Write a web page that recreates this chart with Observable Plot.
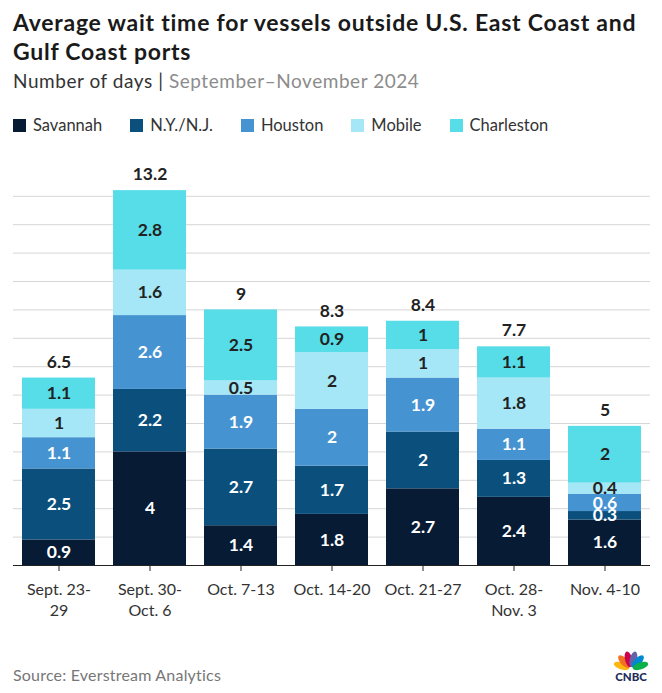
<!DOCTYPE html>
<html><head><meta charset="utf-8">
<script src="https://cdn.jsdelivr.net/npm/d3@7"></script>
<script src="https://cdn.jsdelivr.net/npm/@observablehq/plot@0.6"></script>
<style>
body{margin:0;background:#fff;font-family:Lato,"Open Sans",sans-serif;width:662px;height:693px;position:relative;overflow:hidden}
#title{position:absolute;left:13px;top:8px;font-weight:700;font-size:23px;letter-spacing:0.75px;line-height:29px;color:#1a1a1a;width:649px;white-space:nowrap}
#subtitle{position:absolute;left:13px;top:69px;font-size:19px;letter-spacing:0.55px;color:#333}
#subtitle span{color:#8c8c8c}
#legend{position:absolute;left:13px;top:115px;font-size:16.5px;color:#333;display:flex}
.item{display:flex;align-items:center;margin-right:28px}
.sw{width:13px;height:13px;margin-right:7px}
#chart{position:absolute;left:0;top:140px}
#source{position:absolute;left:13px;top:665px;font-size:16px;letter-spacing:0.2px;color:#777}
#logo{position:absolute;left:610px;top:645px}
</style></head>
<body>
<div id="title">Average wait time for vessels outside U.S. East Coast and<br>Gulf Coast ports</div>
<div id="subtitle">Number of days | <span>September–November 2024</span></div>
<div id="legend"></div>
<div id="chart"></div>
<div id="source">Source: Everstream Analytics</div>
<svg id="logo" width="44" height="40" viewBox="0 0 44 40">
  <g transform="translate(21,24)">
    <ellipse cx="0" cy="-10" rx="3.6" ry="8" fill="#fcb711" transform="rotate(-72)"/>
    <ellipse cx="0" cy="-10" rx="3.6" ry="8" fill="#f37021" transform="rotate(-43)"/>
    <ellipse cx="0" cy="-10" rx="3.6" ry="8" fill="#cc004c" transform="rotate(-14)"/>
    <ellipse cx="0" cy="-10" rx="3.6" ry="8" fill="#6460aa" transform="rotate(14)"/>
    <ellipse cx="0" cy="-10" rx="3.6" ry="8" fill="#0089d0" transform="rotate(43)"/>
    <ellipse cx="0" cy="-10" rx="3.6" ry="8" fill="#0db14b" transform="rotate(72)"/>
  </g>
  <text x="21" y="36" text-anchor="middle" font-family="Lato,sans-serif" font-weight="900" font-size="11.5" fill="#1d2c5a">CNBC</text>
</svg>
<script>
const weeks = ["Sept. 23-\n29", "Sept. 30-\nOct. 6", "Oct. 7-13", "Oct. 14-20", "Oct. 21-27", "Oct. 28-\nNov. 3", "Nov. 4-10"];
const ports = ["Savannah", "N.Y./N.J.", "Houston", "Mobile", "Charleston"];
const colors = ["#071b35", "#0b4f7d", "#4693d1", "#a5e7f6", "#56dde8"];
const savannah = [0.9, 4, 1.4, 1.8, 2.7, 2.4, 1.6];
const nynj = [2.5, 2.2, 2.7, 1.7, 2, 1.3, 0.3];
const houston = [1.1, 2.6, 1.9, 2, 1.9, 1.1, 0.6];
const mobile = [1, 1.6, 0.5, 2, 1, 1.8, 0.4];
const charleston = [1.1, 2.8, 2.5, 0.9, 1, 1.1, 2];
const totals = [6.5, 13.2, 9, 8.3, 8.4, 7.7, 5];
const gridTicks = [1, 2, 3, 4, 5, 6, 7, 8, 9, 10, 11, 12, 13];

const series = [savannah, nynj, houston, mobile, charleston];
const rows = ports.flatMap((p, i) => weeks.map((w, j) => ({week: w, port: p, value: series[i][j]})));
const sums = weeks.map((w, j) => d3.sum(series, s => s[j]));
const darkText = new Set(["Mobile", "Charleston"]);

// legend
const lg = document.getElementById("legend");
ports.forEach((p, i) => {
  const it = document.createElement("div"); it.className = "item";
  const sw = document.createElement("div"); sw.className = "sw"; sw.style.background = colors[i];
  const t = document.createElement("span"); t.textContent = p;
  it.appendChild(sw); it.appendChild(t); lg.appendChild(it);
});

const chart = Plot.plot({
  width: 662, height: 490,
  marginLeft: 13, marginRight: 12, marginTop: 27.4, marginBottom: 65,
  style: {fontFamily: "Lato, sans-serif", fontSize: "16px", color: "#333", background: "transparent"},
  x: {domain: weeks, paddingInner: 0.2, paddingOuter: 0.1, label: null},
  y: {domain: [0, 14], axis: null},
  color: {domain: ports, range: colors},
  marks: [
    Plot.gridY(gridTicks, {stroke: "#d6d6d6", strokeOpacity: 1}),
    Plot.barY(rows, {x: "week", y: "value", fill: "port", order: ports}),
    Plot.text(rows, Plot.stackY({x: "week", y: "value", z: "port", order: ports,
      text: d => darkText.has(d.port) ? "" : String(d.value), fill: "#fff", fontWeight: 700, fontSize: 17.5})),
    Plot.text(rows, Plot.stackY({x: "week", y: "value", z: "port", order: ports,
      text: d => darkText.has(d.port) ? String(d.value) : "", fill: "#222", fontWeight: 700, fontSize: 17.5})),
    Plot.text(weeks, {x: d => d, y: (d, i) => sums[i], text: (d, i) => String(totals[i]), dy: -16, fill: "#222", fontWeight: 700, fontSize: 17.5}),
    Plot.ruleY([0], {stroke: "#222"}),
    Plot.axisX({tickSize: 6, tickPadding: 8, fontSize: 16, lineHeight: 1.35, stroke: "#222", fill: "#333"})
  ]
});
document.getElementById("chart").appendChild(chart);
</script>
</body></html>
